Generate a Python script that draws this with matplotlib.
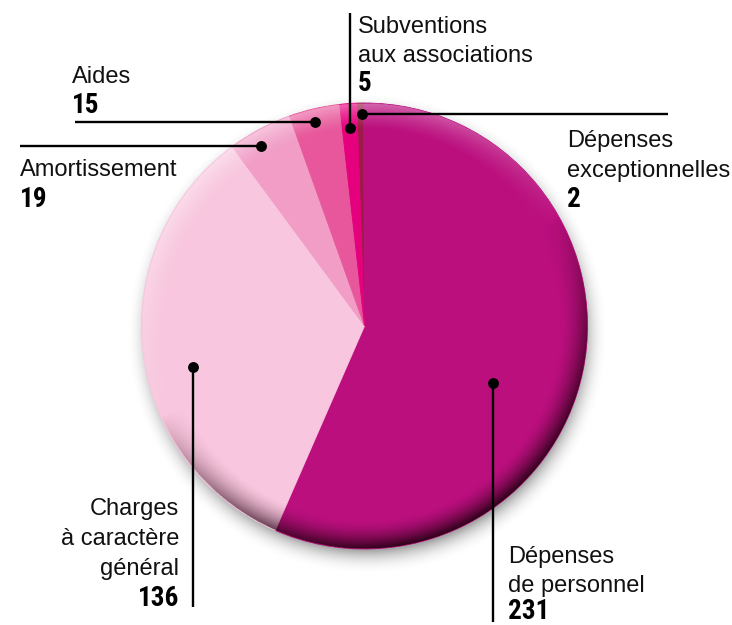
import numpy as np
import matplotlib
matplotlib.use("Agg")
import matplotlib.pyplot as plt
from matplotlib.patches import Circle
from matplotlib import font_manager as fm

# ---- data ----
categories = ["Dépenses exceptionnelles", "Dépenses de personnel",
              "Charges à caractère général", "Amortissement", "Aides",
              "Subventions aux associations"]
values = [2, 231, 136, 19, 15, 5]
label_lines = [["Dépenses", "exceptionnelles"], ["Dépenses", "de personnel"],
               ["Charges", "à caractère", "général"], ["Amortissement"],
               ["Aides"], ["Subventions", "aux associations"]]
colors = ["#9B1B46", "#BB0F7E", "#F8C6DE", "#F19DC6", "#E8579B", "#E5007D"]

# ---- layout (image pixel coords, y downward) ----
W, H = 732, 625
CX, CY, R = 364.5, 326, 223
START = 92

dot_pos = [(0.8, 0.95), (0.56, 0.63), (0.44, 0.79), (0.39, 0.93), (0.45, 0.94), (0.48, 0.89)]
leader = [("h", 668), ("v", 622), ("v", 607), ("h", 20), ("h", 75), ("v", 13)]
text_x = [567, 508, 179, 20, 72, 358]
text_ha = ["left", "left", "right", "left", "left", "left"]
text_base = [[147, 177], [563, 592], [515, 545, 575], [176], [83], [33, 62]]
num_base = [207, 619, 606, 207, 113, 91]

def Y(y):
    return H - y

# pick a condensed bold font for the figures if one exists
avail = {f.name for f in fm.fontManager.ttflist}
cond = [f for f in ["Roboto Condensed", "Liberation Sans Narrow", "Open Sans Condensed",
                    "Noto Sans Display", "DejaVu Sans Condensed"] if f in avail]
if cond:
    num_font = [cond[0], "DejaVu Sans"]
    num_size = 19.5
    num_stretch = "condensed"
else:
    num_font = ["Liberation Sans", "DejaVu Sans"]
    num_size = 18.5
    num_stretch = "normal"

fig = plt.figure(figsize=(W / 100, H / 100), dpi=100)
ax = fig.add_axes([0, 0, 1, 1])
ax.axis("off")

cy = Y(CY)

# drop shadow
ns = 700
sx = np.linspace(-1.25, 1.25, ns)
SX, SY = np.meshgrid(sx, sx)
Ds = np.sqrt((SX - 0.01) ** 2 + (SY + 0.035) ** 2)
sh_alpha = 0.36 * np.clip(1 - (Ds - 0.97) / 0.12, 0, 1) ** 2.4
sh = np.zeros((ns, ns, 4))
sh[..., 3] = sh_alpha
ax.imshow(sh, extent=(CX - 1.25 * R, CX + 1.25 * R, cy - 1.25 * R, cy + 1.25 * R),
          origin="lower", zorder=0, interpolation="bilinear")

wedges, _ = ax.pie(values, colors=colors, startangle=START, counterclock=False,
                   center=(CX, cy), radius=R,
                   wedgeprops=dict(linewidth=0.6))
for w, c in zip(wedges, colors):
    w.set_edgecolor(c)
    w.set_zorder(1)

# rim shading (light from top-left, dark bottom-right)
n = 800
xs = np.linspace(-1, 1, n)
X, Yg = np.meshgrid(xs, xs)
D = np.sqrt(X ** 2 + Yg ** 2)
Dn = np.maximum(D, 1e-6)
Lx, Ly = -0.45, 0.89
shade = (X * Lx + Yg * Ly) / Dn
edge_d = np.clip((D - 0.87) / 0.13, 0, 1) ** 1.7
edge_l = np.clip((D - 0.88) / 0.12, 0, 1) ** 1.4
dark = np.zeros((n, n, 4))
dark[..., 0] = 0.14
dark[..., 2] = 0.07
dark[..., 3] = np.where(D <= 1, edge_d * np.clip(-shade + 0.05, 0, 1) ** 0.8 * 0.95, 0)
light = np.ones((n, n, 4))
light[..., 3] = np.where(D <= 1, edge_l * np.clip(shade, 0, 1) * 0.42, 0)
clip = Circle((CX, cy), R, transform=ax.transData, visible=False)
ax.add_patch(clip)
ext = (CX - R, CX + R, cy - R, cy + R)
for img in (dark, light):
    im = ax.imshow(img, extent=ext, origin="lower", zorder=2, interpolation="bilinear")
    im.set_clip_path(clip)

# labels
total = sum(values)
cum = np.concatenate([[0], np.cumsum(values)])
txt_font = ["Liberation Sans", "DejaVu Sans"]
for i in range(len(values)):
    frac, rf = dot_pos[i]
    cw = (cum[i] + frac * values[i]) / total * 360
    ang = np.deg2rad(START - cw)
    dx = CX + rf * R * np.cos(ang)
    dy = cy + rf * R * np.sin(ang)
    kind, end = leader[i]
    if kind == "h":
        ax.plot([dx, end], [dy, dy], color="black", lw=1.7, zorder=5, solid_capstyle="butt")
    else:
        ax.plot([dx, dx], [dy, Y(end)], color="black", lw=1.7, zorder=5, solid_capstyle="butt")
    ax.plot([dx], [dy], "o", color="black", ms=6.8, zorder=6)
    for line, b in zip(label_lines[i], text_base[i]):
        ax.text(text_x[i], Y(b), line, ha=text_ha[i], va="baseline",
                fontsize=17, family=txt_font, color="#111111", zorder=7)
    ax.text(text_x[i], Y(num_base[i]), str(values[i]), ha=text_ha[i], va="baseline",
            fontsize=num_size, family=num_font, fontweight="bold",
            fontstretch=num_stretch, color="black", zorder=7)

ax.set_xlim(0, W)
ax.set_ylim(0, H)
ax.set_aspect("auto")
fig.savefig("out.png", dpi=100, facecolor="white")
